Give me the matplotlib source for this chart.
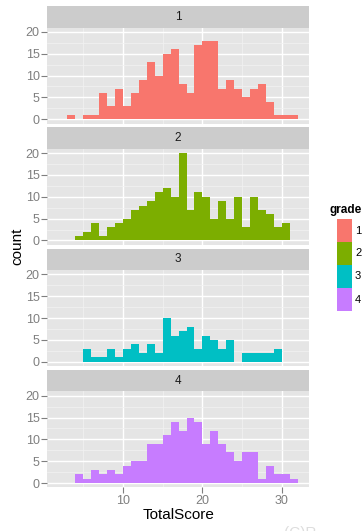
import matplotlib
matplotlib.use('Agg')
import matplotlib.pyplot as plt
import numpy as np

# histogram bins of width 1, left edges 2..31
bin_starts = list(range(2, 32))
grades = ['1', '2', '3', '4']
counts_g1 = [0, 1, 0, 1, 1, 6, 3, 7, 3, 6, 9, 13, 10, 15, 16, 8, 6, 17, 18, 18, 7, 9, 7, 5, 7, 8, 4, 1, 1, 1]
counts_g2 = [0, 0, 1, 2, 4, 1, 3, 4, 5, 7, 8, 9, 11, 12, 10, 20, 7, 11, 10, 5, 9, 5, 10, 3, 10, 7, 6, 3, 4, 0]
counts_g3 = [0, 0, 0, 3, 1, 1, 3, 1, 3, 4, 2, 4, 2, 10, 6, 7, 8, 3, 6, 5, 3, 5, 0, 2, 2, 2, 2, 3, 0, 0]
counts_g4 = [0, 0, 2, 1, 3, 2, 3, 2, 4, 5, 5, 9, 9, 11, 14, 12, 15, 14, 9, 12, 9, 7, 5, 7, 7, 1, 4, 2, 2, 1]
colors = ['#F8766D', '#7CAE00', '#00BFC4', '#C77CFF']

y_ticks = [0, 5, 10, 15, 20]
x_ticks = [10, 20, 30]

plt.rcParams['font.family'] = ['Liberation Sans', 'DejaVu Sans']

W, H = 363, 531
fig = plt.figure(figsize=(W / 100, H / 100), dpi=100)


def box(x0, y0, x1, y1):
    # pixel box (top-left origin) -> figure fraction rect
    return [x0 / W, 1 - y1 / H, (x1 - x0) / W, (y1 - y0) / H]


px0, px1 = 47.3, 309
step, strip_h, panel_h = 121.3, 21.5, 96
all_counts = [counts_g1, counts_g2, counts_g3, counts_g4]
grey50 = '#7F7F7F'

for i, (g, cnt, col) in enumerate(zip(grades, all_counts, colors)):
    top = 6 + i * step
    sax = fig.add_axes(box(px0, top, px1, top + strip_h))
    sax.set_facecolor('#CCCCCC')
    sax.set_xticks([]); sax.set_yticks([])
    for s in sax.spines.values():
        s.set_visible(False)
    sax.text(0.5, 0.5, g, ha='center', va='center', fontsize=8.5, color='#1A1A1A',
             transform=sax.transAxes)

    ax = fig.add_axes(box(px0, top + strip_h, px1, top + strip_h + panel_h))
    ax.set_facecolor('#E5E5E5')
    ax.set_axisbelow(True)
    ax.bar(bin_starts, cnt, width=1, align='edge', color=col, linewidth=0)
    ax.set_xlim(0.5, 33.4)
    ax.set_ylim(-1, 21)
    ax.set_yticks(y_ticks)
    ax.set_yticks([2.5, 7.5, 12.5, 17.5], minor=True)
    ax.set_xticks(x_ticks)
    ax.set_xticks([5, 15, 25], minor=True)
    ax.grid(which='major', color='white', linewidth=1.0)
    ax.grid(which='minor', color='#F2F2F2', linewidth=0.5)
    for s in ax.spines.values():
        s.set_visible(False)
    ax.tick_params(which='minor', length=0)
    ax.tick_params(axis='y', which='major', length=4, width=0.8, color=grey50,
                   labelcolor=grey50, labelsize=9, pad=1.5)
    if i == 3:
        ax.tick_params(axis='x', which='major', length=4, width=0.8, color=grey50,
                       labelcolor=grey50, labelsize=9, pad=1.5)
        ax.set_xlabel('TotalScore', fontsize=11, labelpad=1)
    else:
        ax.tick_params(axis='x', which='major', length=0, labelbottom=False)

fig.text(17 / W, 1 - 246 / H, 'count', rotation=90, ha='center', va='center', fontsize=11)

# legend
fig.text(329 / W, 1 - 210 / H, 'grade', ha='left', va='center', fontsize=8.5, fontweight='bold')
key_tops = [219.3, 242, 265, 288.3]
for g, col, kt in zip(grades, colors, key_tops):
    kax = fig.add_axes(box(337, kt, 352, kt + 22.8))
    kax.set_facecolor(col)
    kax.set_xticks([]); kax.set_yticks([])
    for s in kax.spines.values():
        s.set_visible(False)
    fig.text(355 / W, 1 - (kt + 11.4) / H, g, ha='left', va='center', fontsize=8)

fig.text(284 / W, 1 - 533 / H, '(C)R', ha='left', va='center', fontsize=11, color='#DDDDDD')

fig.savefig('out.png', dpi=100)
